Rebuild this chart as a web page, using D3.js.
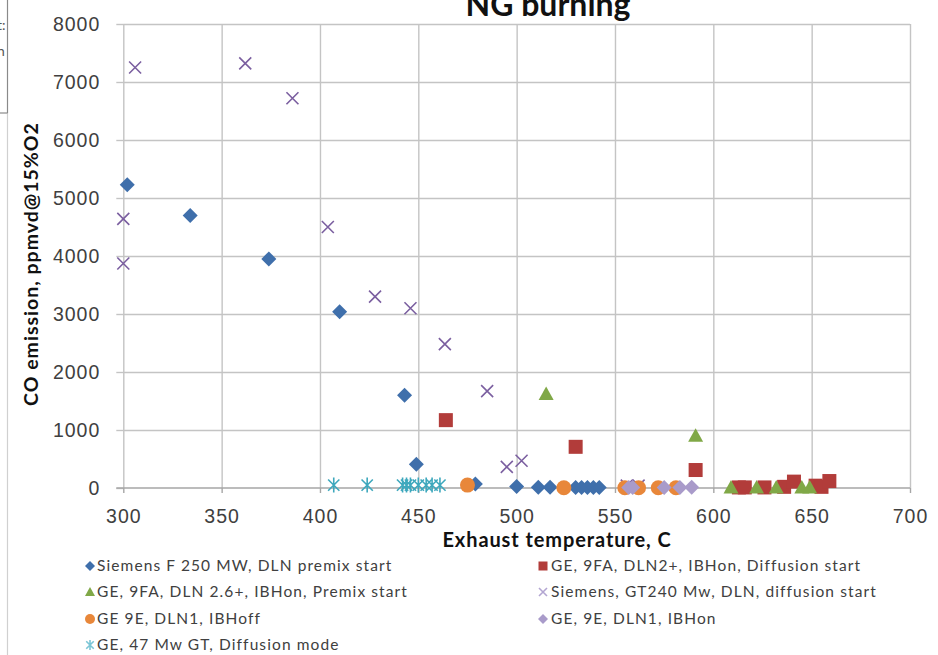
<!DOCTYPE html>
<html>
<head>
<meta charset="utf-8">
<script src="https://cdn.jsdelivr.net/npm/d3@7"></script>
<style>
  body { margin: 0; background: #fff; }
  svg { display: block; font-family: Lato, "Open Sans", sans-serif; }
  .grid line { stroke: #c4c4c4; stroke-width: 1.4; }
  .grid path { stroke: none; }
  .axis path, .axis line { stroke: #a6a6a6; stroke-width: 1.4; }
  .axis text { fill: #404040; font-size: 19.5px; letter-spacing: 1px; }
  .legend text { fill: #404040; font-size: 15.5px; letter-spacing: 1.1px; }
</style>
</head>
<body>
<svg id="chart" width="938" height="655"></svg>
<script>
// series values: [exhaust temperature C, CO ppmvd]
const siemensF250 = [[302, 5230], [334, 4700], [374, 3950], [410, 3040], [443, 1600], [449, 410],
  [479, 70], [500, 25], [511, 15], [517, 15], [530, 10], [533, 10], [536, 10], [539, 10], [542, 10]];
const ge9faDln2 = [[464, 1170], [530, 710], [591, 310], [613, 10], [616, 10], [626, 10], [636, 20],
  [641, 110], [652, 40], [655, 20], [659, 120]];
const ge9faDln26 = [[515, 1620], [591, 900], [609, 10], [622, 10], [632, 10], [645, 10], [649, 10]];
const siemensGT240 = [[300, 4640], [300, 3870], [306, 7250], [362, 7320], [386, 6720], [404, 4500],
  [428, 3300], [446, 3100], [463.5, 2480], [485, 1670], [495, 365], [502.5, 470], [556, 40], [562, 40]];
const ge9eIBHoff = [[475, 50], [524, 5], [555, 5], [562, 5], [572, 5], [581, 5]];
const ge9eIBHon = [[557, 10], [559, 10], [575, 10], [583, 10], [589, 15]];
const ge47Mw = [[407, 50], [424, 50], [442, 50], [444, 50], [446, 50], [450, 50], [454, 50], [457, 50], [461, 50]];

const seriesNames = [
  "Siemens F 250 MW, DLN premix start",
  "GE, 9FA, DLN2+, IBHon, Diffusion start",
  "GE, 9FA, DLN 2.6+, IBHon, Premix start",
  "Siemens, GT240 Mw, DLN, diffusion start",
  "GE 9E, DLN1, IBHoff",
  "GE, 9E, DLN1,  IBHon",
  "GE, 47 Mw GT, Diffusion mode"
];
const seriesData = [siemensF250, ge9faDln2, ge9faDln26, siemensGT240, ge9eIBHoff, ge9eIBHon, ge47Mw];
const seriesShapes = ["diamond", "square", "triangle", "x", "circle", "diamond", "star"];
const seriesColors = ["#3f6fab", "#b23c3a", "#80a847", "#7b5fa0", "#e8873a", "#a99bca", "#3ea8bd"];

const xTicks = [300, 350, 400, 450, 500, 550, 600, 650, 700];
const yTicks = [0, 1000, 2000, 3000, 4000, 5000, 6000, 7000, 8000];

const svg = d3.select("#chart");
const plot = { left: 123.3, right: 910, top: 24, bottom: 488 };

const x = d3.scaleLinear().domain([300, 700]).range([plot.left, plot.right]);
const y = d3.scaleLinear().domain([0, 8000]).range([plot.bottom, plot.top]);

// leftover frame of another window on the far left
svg.append("line").attr("x1", 7.5).attr("x2", 7.5).attr("y1", 0).attr("y2", 113)
  .style("stroke", "#8a8a8a").style("stroke-width", 1.2);
svg.append("line").attr("x1", 7.5).attr("x2", 7.5).attr("y1", 113).attr("y2", 655)
  .style("stroke", "#d0d0d0").style("stroke-width", 1.2);
svg.append("line").attr("x1", 0).attr("x2", 7.5).attr("y1", 113).attr("y2", 113)
  .style("stroke", "#8a8a8a").style("stroke-width", 1.2);
svg.append("text").attr("x", -3).attr("y", 30).style("font-size", "14px").style("fill", "#555").text("t:");
svg.append("text").attr("x", -3).attr("y", 56).style("font-size", "14px").style("fill", "#555").text("n");

// gridlines
svg.append("g").attr("class", "grid")
  .attr("transform", `translate(${plot.left},0)`)
  .call(d3.axisLeft(y).tickValues(yTicks.slice(1)).tickSize(-(plot.right - plot.left)).tickFormat(""));
svg.append("g").attr("class", "grid")
  .attr("transform", `translate(0,${plot.bottom})`)
  .call(d3.axisBottom(x).tickValues(xTicks).tickSize(-(plot.bottom - plot.top)).tickFormat(""));

// axes
const yAxis = svg.append("g").attr("class", "axis")
  .attr("transform", `translate(${plot.left},0)`)
  .call(d3.axisLeft(y).tickValues(yTicks).tickSize(7).tickSizeOuter(0).tickPadding(16).tickFormat(d3.format("d")));
yAxis.select("path").remove();
yAxis.selectAll("line").style("stroke", "#c4c4c4");

const xAxis = svg.append("g").attr("class", "axis")
  .attr("transform", `translate(0,${plot.bottom})`)
  .call(d3.axisBottom(x).tickValues(xTicks).tickSize(5).tickSizeOuter(0).tickPadding(16));
xAxis.select("path").attr("d", `M${plot.left - 7},0H${plot.right}`);

// titles
svg.append("text").attr("x", 548).attr("y", 16)
  .attr("text-anchor", "middle").style("font-size", "32px").style("font-weight", "bold")
  .style("fill", "#111").text("NG burning");
svg.append("text").attr("x", 557).attr("y", 547)
  .attr("text-anchor", "middle").style("font-size", "20px").style("font-weight", "bold")
  .style("letter-spacing", "0.9px").style("fill", "#111").text("Exhaust temperature, C");
svg.append("text").attr("transform", "translate(38,264) rotate(-90)")
  .attr("text-anchor", "middle").style("font-size", "19.5px").style("font-weight", "bold")
  .style("letter-spacing", "1px").style("fill", "#111").text("CO emission, ppmvd@15%O2");

// marker drawing
function drawMarker(g, shape, color, s) {
  const r = s / 2;
  if (shape === "diamond") {
    g.append("path").attr("d", `M0,${-r}L${r},0L0,${r}L${-r},0Z`).style("fill", color);
  } else if (shape === "square") {
    g.append("rect").attr("x", -r + 0.5).attr("y", -r + 0.5).attr("width", s - 1).attr("height", s - 1).style("fill", color);
  } else if (shape === "triangle") {
    g.append("path").attr("d", `M0,${-r}L${r},${r * 0.8}L${-r},${r * 0.8}Z`).style("fill", color);
  } else if (shape === "circle") {
    g.append("circle").attr("r", r).style("fill", color);
  } else if (shape === "x") {
    const k = r * 0.8;
    g.append("path").attr("d", `M${-k},${-k}L${k},${k}M${-k},${k}L${k},${-k}`)
      .style("stroke", color).style("stroke-width", 1.6).style("fill", "none");
  } else if (shape === "star") {
    const k = r * 0.75;
    g.append("path").attr("d", `M${-k},${-k}L${k},${k}M${-k},${k}L${k},${-k}M0,${-r}L0,${r}`)
      .style("stroke", color).style("stroke-width", 1.6).style("fill", "none");
  }
}

seriesData.forEach(function(data, i) {
  svg.append("g").attr("class", "series s" + i)
    .selectAll("g")
    .data(data)
    .enter()
    .append("g")
    .attr("transform", d => `translate(${x(d[0])},${y(d[1])})`)
    .each(function() {
      drawMarker(d3.select(this), seriesShapes[i], seriesColors[i], 15);
    });
});

// legend, two columns
const legend = svg.append("g").attr("class", "legend");
const legendRows = [566, 592, 619, 645];
const legendCols = [{ mark: 90, text: 97 }, { mark: 543, text: 551 }];
seriesNames.forEach(function(name, i) {
  const col = legendCols[i % 2];
  const row = legendRows[Math.floor(i / 2)];
  const item = legend.append("g");
  const m = item.append("g").attr("transform", `translate(${col.mark},${row})`);
  const legendColor = seriesShapes[i] === "x" ? "#b3a6d2" : seriesShapes[i] === "star" ? "#7cc6d6" : seriesColors[i];
  drawMarker(m, seriesShapes[i], legendColor, 10);
  item.append("text").attr("x", col.text).attr("y", row).attr("dy", "0.35em").text(name);
});
</script>
</body>
</html>
